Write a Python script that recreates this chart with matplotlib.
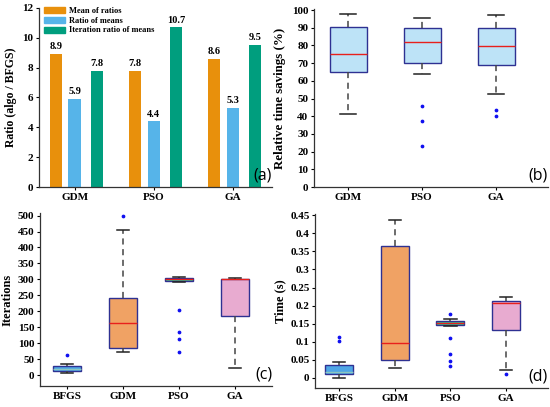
import matplotlib
matplotlib.use('Agg')
import matplotlib.pyplot as plt
from matplotlib.patches import Patch
from matplotlib.ticker import FuncFormatter

# ---------------- data ----------------
algos3 = ['GDM', 'PSO', 'GA']
mean_of_ratios = [8.9, 7.8, 8.6]
ratio_of_means = [5.9, 4.4, 5.3]
iteration_ratio = [7.8, 10.7, 9.5]
bar_series = ['Mean of ratios', 'Ratio of means', 'Iteration ratio of means']

# (b) relative time savings (%)
b_whislo = [41, 64, 52.5]
b_q1 = [65, 70, 69]
b_med = [75, 82, 79.5]
b_q3 = [90.5, 90, 90]
b_whishi = [98, 95.5, 97]
b_fliers = [[], [45.5, 37.5, 23], [43.5, 40]]

algos4 = ['BFGS', 'GDM', 'PSO', 'GA']
# (c) iterations
c_whislo = [6, 71, 291, 23]
c_q1 = [12.5, 84, 295, 185.5]
c_med = [20.5, 162.5, 300, 301]
c_q3 = [28, 242, 305, 302]
c_whishi = [33.5, 454, 307, 304]
c_fliers = [[62], [500], [204, 136, 112, 71], []]

# (d) time (s)
d_whislo = [0.0, 0.028, 0.143, 0.021]
d_q1 = [0.0094, 0.049, 0.147, 0.132]
d_med = [0.017, 0.0975, 0.152, 0.206]
d_q3 = [0.035, 0.365, 0.157, 0.213]
d_whishi = [0.043, 0.436, 0.163, 0.225]
d_fliers = [[0.114, 0.101], [], [0.176, 0.111, 0.065, 0.048, 0.033], [0.012]]

# ---------------- style ----------------
SERIF = 'Liberation Serif'
bar_colors = ['#E8900C', '#56B4E9', '#009E7E']
box_edge = '#2E3192'
flier_c = '#1010F0'
box4_colors = ['#4FA6E6', '#F0A264', '#2DC493', '#E8ABD0']
med4_colors = ['#8CC7C0', '#E8201C', '#E8201C', '#E8201C']

fig = plt.figure(figsize=(5.5, 4.07), dpi=100)
fig.patch.set_facecolor('white')

ax_a = fig.add_axes([0.071, 0.5405, 0.424, 0.44])
ax_b = fig.add_axes([0.571, 0.5405, 0.425, 0.437])
ax_c = fig.add_axes([0.0727, 0.0516, 0.4223, 0.425])
ax_d = fig.add_axes([0.573, 0.0467, 0.423, 0.427])


def style_axes(ax):
    for s in ['top', 'right']:
        ax.spines[s].set_visible(False)
    for s in ['left', 'bottom']:
        ax.spines[s].set_color('#333333')
        ax.spines[s].set_linewidth(0.9)
    ax.tick_params(direction='out', length=2, width=0.8, pad=2)
    for lab in ax.get_xticklabels() + ax.get_yticklabels():
        lab.set_fontfamily(SERIF)
        lab.set_fontweight('bold')
        lab.set_fontsize(8)


def panel_label(ax, s):
    ax.text(1.0, 0.02, s, transform=ax.transAxes, ha='right', va='bottom',
            fontsize=11.5, family='Open Sans')


def ylab(ax, s, size, pad=3):
    ax.set_ylabel(s, fontsize=size, fontweight='bold', family=SERIF, labelpad=pad)


# ---------------- (a) bars ----------------
x = list(range(len(algos3)))
offsets = [-0.24, 0.0, 0.28]
width = 0.155
for vals, off, col, name in zip([mean_of_ratios, ratio_of_means, iteration_ratio],
                                offsets, bar_colors, bar_series):
    bars = ax_a.bar([xi + off for xi in x], vals, width=width, color=col, label=name)
    ax_a.bar_label(bars, fmt='%.1f', padding=2, fontsize=7.5,
                   fontfamily=SERIF, fontweight='bold')
ax_a.set_xlim(-0.45, 2.5)
ax_a.set_ylim(0, 12)
ax_a.set_yticks(range(0, 13, 2))
ax_a.set_xticks(x)
ax_a.set_xticklabels(algos3)
ylab(ax_a, 'Ratio (algo / BFGS)', 8.5, 4)
style_axes(ax_a)
ax_a.legend(handles=[Patch(color=c, label=n) for c, n in zip(bar_colors, bar_series)],
            loc='upper left', bbox_to_anchor=(0.005, 1.025), frameon=False,
            prop={'family': SERIF, 'weight': 'bold', 'size': 6},
            handlelength=2.6, handleheight=0.75, labelspacing=0.22, handletextpad=0.5,
            borderaxespad=0.0)
panel_label(ax_a, '(a)')


def make_stats(labels, whislo, q1, med, q3, whishi, fliers):
    return [dict(label=l, whislo=a, q1=b, med=c, q3=d, whishi=e, fliers=f)
            for l, a, b, c, d, e, f in zip(labels, whislo, q1, med, q3, whishi, fliers)]


def draw_box(ax, stats, faces, meds):
    res = ax.bxp(stats, widths=0.5, capwidths=0.22, patch_artist=True,
                 whiskerprops=dict(color='#444444', linestyle=(0, (4, 3)), linewidth=1.1),
                 capprops=dict(color='#222222', linewidth=1.1),
                 flierprops=dict(marker='o', markersize=1.7, markerfacecolor=flier_c,
                                 markeredgecolor=flier_c, linestyle='none'),
                 medianprops=dict(linewidth=1.0))
    for p, fc in zip(res['boxes'], faces):
        p.set_facecolor(fc)
        p.set_edgecolor(box_edge)
        p.set_linewidth(1.0)
    for m, mc in zip(res['medians'], meds):
        m.set_color(mc)
    return res


# ---------------- (b) ----------------
stats_b = make_stats(algos3, b_whislo, b_q1, b_med, b_q3, b_whishi, b_fliers)
draw_box(ax_b, stats_b, ['#BDE3F7'] * 3, ['#E8201C'] * 3)
ax_b.set_xlim(0.54, 3.7)
ax_b.set_ylim(0, 100.5)
ax_b.set_yticks(range(0, 101, 10))
ylab(ax_b, 'Relative time savings (%)', 9.3, 4)
style_axes(ax_b)
panel_label(ax_b, '(b)')

# ---------------- (c) ----------------
stats_c = make_stats(algos4, c_whislo, c_q1, c_med, c_q3, c_whishi, c_fliers)
draw_box(ax_c, stats_c, box4_colors, med4_colors)
ax_c.set_xlim(0.51, 4.67)
ax_c.set_ylim(-34, 508)
ax_c.set_yticks(range(0, 501, 50))
ylab(ax_c, 'Iterations', 9)
style_axes(ax_c)
panel_label(ax_c, '(c)')

# ---------------- (d) ----------------
stats_d = make_stats(algos4, d_whislo, d_q1, d_med, d_q3, d_whishi, d_fliers)
draw_box(ax_d, stats_d, box4_colors, med4_colors)
ax_d.set_xlim(0.57, 4.75)
ax_d.set_ylim(-0.028, 0.453)
ax_d.set_yticks([i * 0.05 for i in range(10)])
ax_d.yaxis.set_major_formatter(FuncFormatter(lambda v, p: f'{v:.2f}'.rstrip('0').rstrip('.')))
ylab(ax_d, 'Time (s)', 9)
style_axes(ax_d)
panel_label(ax_d, '(d)')

fig.savefig('out.png', dpi=100, facecolor='white')
